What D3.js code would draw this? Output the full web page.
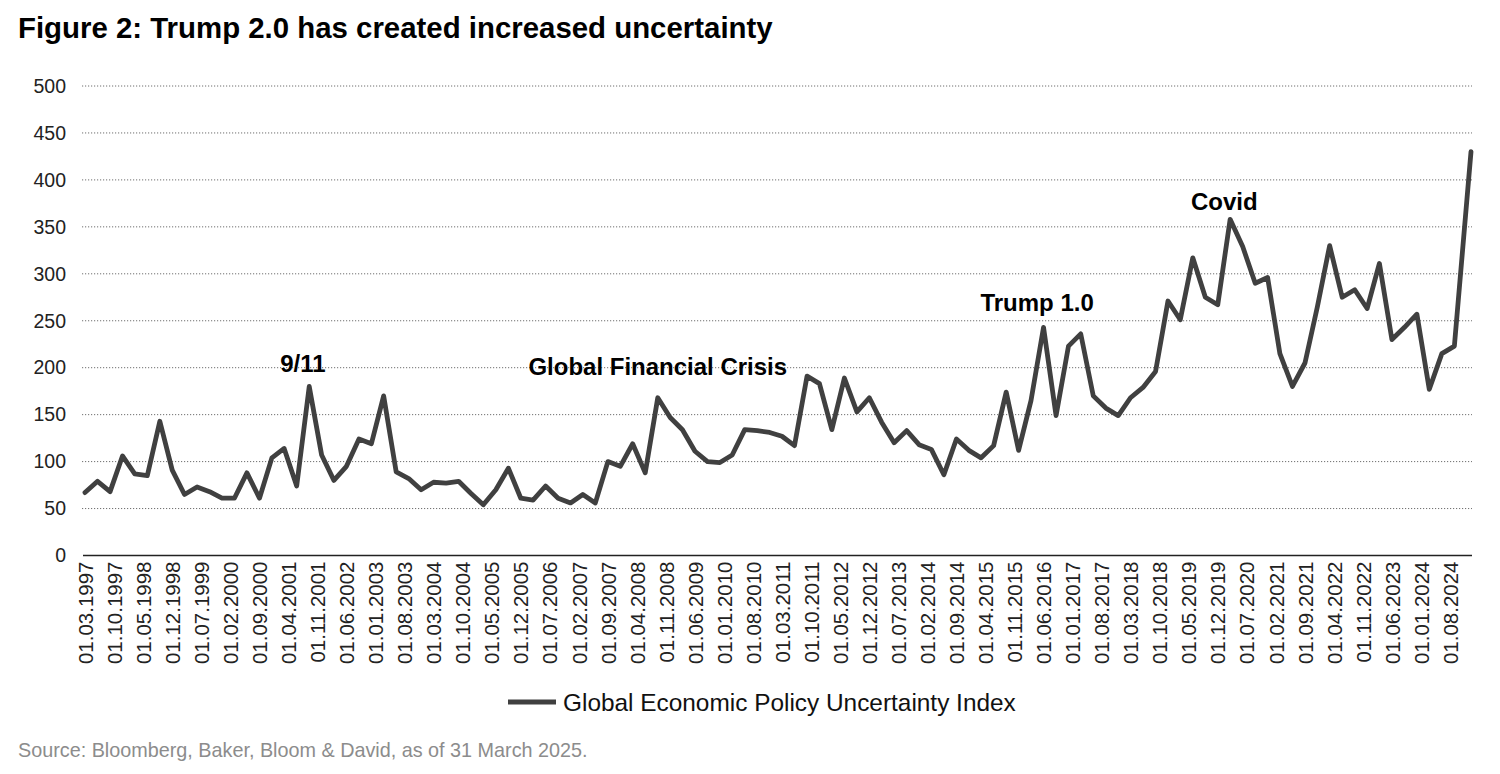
<!DOCTYPE html>
<html>
<head>
<meta charset="utf-8">
<script src="https://cdn.jsdelivr.net/npm/d3@7"></script>
<style>
    html, body { margin: 0; padding: 0; background: #fff; }
    svg { display: block; font-family: "Liberation Sans", Arial, sans-serif; }
    .grid line { stroke: #6f6f6f; stroke-width: 1; stroke-dasharray: 1.2 1.8; }
</style>
</head>
<body>
<div id="chart"></div>
<script>
/* ── Data ── */
const quarterDates = [
    '1997-03', '1997-06', '1997-09', '1997-12',
    '1998-03', '1998-06', '1998-09', '1998-12',
    '1999-03', '1999-06', '1999-09', '1999-12',
    '2000-03', '2000-06', '2000-09', '2000-12',
    '2001-03', '2001-06', '2001-09', '2001-12',
    '2002-03', '2002-06', '2002-09', '2002-12',
    '2003-03', '2003-06', '2003-09', '2003-12',
    '2004-03', '2004-06', '2004-09', '2004-12',
    '2005-03', '2005-06', '2005-09', '2005-12',
    '2006-03', '2006-06', '2006-09', '2006-12',
    '2007-03', '2007-06', '2007-09', '2007-12',
    '2008-03', '2008-06', '2008-09', '2008-12',
    '2009-03', '2009-06', '2009-09', '2009-12',
    '2010-03', '2010-06', '2010-09', '2010-12',
    '2011-03', '2011-06', '2011-09', '2011-12',
    '2012-03', '2012-06', '2012-09', '2012-12',
    '2013-03', '2013-06', '2013-09', '2013-12',
    '2014-03', '2014-06', '2014-09', '2014-12',
    '2015-03', '2015-06', '2015-09', '2015-12',
    '2016-03', '2016-06', '2016-09', '2016-12',
    '2017-03', '2017-06', '2017-09', '2017-12',
    '2018-03', '2018-06', '2018-09', '2018-12',
    '2019-03', '2019-06', '2019-09', '2019-12',
    '2020-03', '2020-06', '2020-09', '2020-12',
    '2021-03', '2021-06', '2021-09', '2021-12',
    '2022-03', '2022-06', '2022-09', '2022-12',
    '2023-03', '2023-06', '2023-09', '2023-12',
    '2024-03', '2024-06', '2024-09', '2025-01'
];

const gepuValues = [
     67,  79,  68, 106,
     87,  85, 143,  91,
     65,  73,  68,  61,
     61,  88,  61, 104,
    114,  74, 180, 107,
     80,  95, 124, 119,
    170,  89,  82,  70,
     78,  77,  79,  66,
     54,  70,  93,  61,
     59,  74,  61,  56,
     65,  56, 100,  95,
    119,  88, 168, 147,
    134, 111, 100,  99,
    107, 134, 133, 131,
    127, 117, 191, 183,
    134, 189, 153, 168,
    142, 120, 133, 118,
    113,  86, 124, 112,
    104, 117, 174, 112,
    165, 243, 149, 223,
    236, 170, 157, 149,
    168, 179, 196, 271,
    251, 317, 275, 267,
    358, 329, 290, 296,
    215, 180, 205, 265,
    330, 275, 283, 263,
    311, 230, 243, 257,
    177, 215, 223, 430
];

const tickLabels = [
    '01.03.1997', '01.10.1997', '01.05.1998', '01.12.1998', '01.07.1999', '01.02.2000',
    '01.09.2000', '01.04.2001', '01.11.2001', '01.06.2002', '01.01.2003', '01.08.2003',
    '01.03.2004', '01.10.2004', '01.05.2005', '01.12.2005', '01.07.2006', '01.02.2007',
    '01.09.2007', '01.04.2008', '01.11.2008', '01.06.2009', '01.01.2010', '01.08.2010',
    '01.03.2011', '01.10.2011', '01.05.2012', '01.12.2012', '01.07.2013', '01.02.2014',
    '01.09.2014', '01.04.2015', '01.11.2015', '01.06.2016', '01.01.2017', '01.08.2017',
    '01.03.2018', '01.10.2018', '01.05.2019', '01.12.2019', '01.07.2020', '01.02.2021',
    '01.09.2021', '01.04.2022', '01.11.2022', '01.06.2023', '01.01.2024', '01.08.2024'
];

const yTicks = [0, 50, 100, 150, 200, 250, 300, 350, 400, 450, 500];

const annotLabels = ['9/11', 'Global Financial Crisis', 'Trump 1.0', 'Covid'];
const annotDates  = ['2001-07-16', '2008-09-01', '2016-04-15', '2020-01-18'];
const annotValues = [195, 192, 260, 368];

const seriesName = 'Global Economic Policy Uncertainty Index';
const titleText  = 'Figure 2: Trump 2.0 has created increased uncertainty';
const sourceText = 'Source: Bloomberg, Baker, Bloom & David, as of 31 March 2025.';

/* ── Layout ── */
const W = 1500, H = 774;
const X0 = 85, X1 = 1471;
const Y_TOP = 86, Y_BOT = 555.5;
const LINE_COL = '#404040';
const FONT = '"Liberation Sans", Arial, sans-serif';

const parseMonth = d3.timeParse('%Y-%m');
const parseDay   = d3.timeParse('%Y-%m-%d');
const parseTick  = d3.timeParse('%d.%m.%Y');

const data = quarterDates.map((d, i) => ({ date: parseMonth(d), value: gepuValues[i] }));

const x = d3.scaleTime()
    .domain(d3.extent(data, d => d.date))
    .range([X0, X1]);

const y = d3.scaleLinear()
    .domain([0, 500])
    .range([Y_BOT, Y_TOP]);

const svg = d3.select('#chart').append('svg')
    .attr('width', W)
    .attr('height', H);

/* Title */
svg.append('text')
    .attr('x', 18).attr('y', 38)
    .attr('font-size', 29.4).attr('font-weight', 'bold')
    .attr('fill', '#000')
    .text(titleText);

/* Dotted gridlines */
svg.append('g').attr('class', 'grid')
    .selectAll('line')
    .data(yTicks.filter(v => v > 0))
    .join('line')
    .attr('x1', X0 - 3).attr('x2', X1 + 1)
    .attr('y1', d => y(d)).attr('y2', d => y(d));

/* Y axis labels */
const yAxis = svg.append('g')
    .attr('transform', `translate(${X0 - 12},0)`)
    .call(d3.axisLeft(y).tickValues(yTicks).tickSize(0).tickPadding(7));
yAxis.select('.domain').remove();
yAxis.selectAll('text')
    .attr('font-family', FONT)
    .attr('font-size', 19.5)
    .attr('fill', '#222');

/* X axis: baseline + rotated labels */
const tickDates = tickLabels.map(parseTick);
const xAxis = svg.append('g')
    .attr('transform', `translate(0,${Y_BOT})`)
    .call(d3.axisBottom(x).tickValues(tickDates).tickSize(0).tickFormat((d, i) => tickLabels[i]));
xAxis.select('.domain')
    .attr('d', `M${X0 - 2},0H${X1 + 1}`)
    .attr('stroke', '#222').attr('stroke-width', 1.6);
xAxis.selectAll('.tick text')
    .attr('font-family', FONT)
    .attr('font-size', 20.5)
    .attr('fill', '#222')
    .attr('text-anchor', 'end')
    .attr('transform', 'translate(0,6) rotate(-90)')
    .attr('x', 0).attr('y', 0).attr('dy', '0.35em');

/* Annotations */
svg.append('g')
    .selectAll('text')
    .data(annotLabels)
    .join('text')
    .attr('x', (d, i) => x(parseDay(annotDates[i])))
    .attr('y', (d, i) => y(annotValues[i]))
    .attr('text-anchor', 'middle')
    .attr('font-size', 24).attr('font-weight', 'bold')
    .attr('fill', '#000')
    .text(d => d);

/* Series line */
const line = d3.line()
    .x(d => x(d.date))
    .y(d => y(d.value));

svg.append('path')
    .datum(data)
    .attr('fill', 'none')
    .attr('stroke', LINE_COL)
    .attr('stroke-width', 4.8)
    .attr('stroke-linejoin', 'round')
    .attr('stroke-linecap', 'round')
    .attr('d', line);

/* Legend */
const legend = svg.append('g').attr('transform', 'translate(508,702)');
legend.append('line')
    .attr('x1', 0).attr('x2', 48)
    .attr('stroke', LINE_COL).attr('stroke-width', 5);
legend.append('text')
    .attr('x', 55).attr('y', 8.5)
    .attr('font-size', 24.4)
    .attr('fill', '#111')
    .text(seriesName);

/* Source */
svg.append('text')
    .attr('x', 18).attr('y', 757)
    .attr('font-size', 19.8)
    .attr('fill', '#8c8c8c')
    .text(sourceText);
</script>
</body>
</html>
